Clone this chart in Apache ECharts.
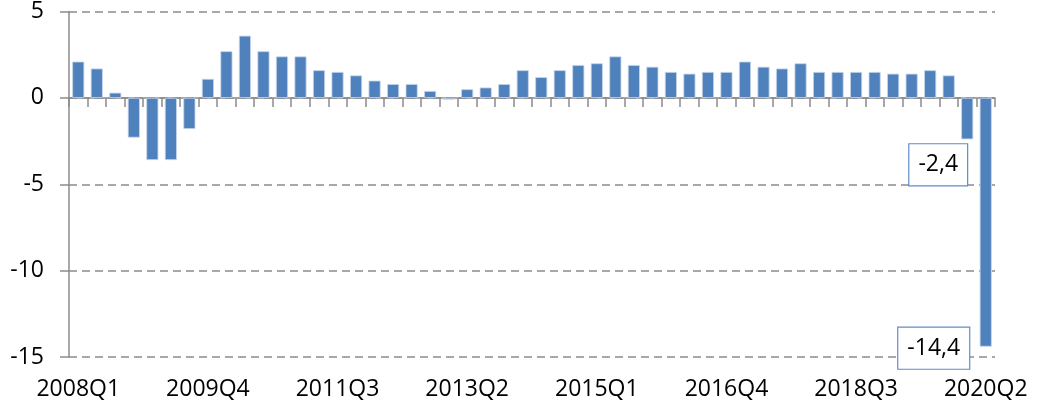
<!DOCTYPE html>
<html>
<head>
<meta charset="utf-8">
<script src="https://cdn.jsdelivr.net/npm/echarts@6/dist/echarts.min.js"></script>
<style>
  html, body { margin: 0; padding: 0; background: #fff; }
  #main { width: 1039px; height: 412px; }
</style>
</head>
<body>
<div id="main"></div>
<script>
var quarters = [
  '2008Q1','2008Q2','2008Q3','2008Q4','2009Q1','2009Q2','2009Q3','2009Q4',
  '2010Q1','2010Q2','2010Q3','2010Q4','2011Q1','2011Q2','2011Q3','2011Q4',
  '2012Q1','2012Q2','2012Q3','2012Q4','2013Q1','2013Q2','2013Q3','2013Q4',
  '2014Q1','2014Q2','2014Q3','2014Q4','2015Q1','2015Q2','2015Q3','2015Q4',
  '2016Q1','2016Q2','2016Q3','2016Q4','2017Q1','2017Q2','2017Q3','2017Q4',
  '2018Q1','2018Q2','2018Q3','2018Q4','2019Q1','2019Q2','2019Q3','2019Q4',
  '2020Q1','2020Q2'
];

var growth = [
  2.1, 1.7, 0.3, -2.3, -3.6, -3.6, -1.8, 1.1,
  2.7, 3.6, 2.7, 2.4, 2.4, 1.6, 1.5, 1.3,
  1.0, 0.8, 0.8, 0.4, -0.1, 0.5, 0.6, 0.8,
  1.6, 1.2, 1.6, 1.9, 2.0, 2.4, 1.9, 1.8,
  1.5, 1.4, 1.5, 1.5, 2.1, 1.8, 1.7, 2.0,
  1.5, 1.5, 1.5, 1.5, 1.4, 1.4, 1.6, 1.3,
  -2.4, -14.4
];

var yTicks = [-15, -10, -5, 0, 5];

// which bars get a boxed label, and where the box sits
var labelled = { 48: [-29, 0], 49: [-52, -24] };

var fontName = '"Open Sans", sans-serif';

var barData = growth.map(function (v, i) {
  if (!labelled[i]) return v;
  return {
    value: v,
    label: {
      show: true,
      position: 'bottom',
      distance: 5,
      offset: labelled[i],
      formatter: function (p) { return String(p.value).replace('.', ','); },
      fontFamily: fontName,
      fontSize: 23,
      lineHeight: 23,
      color: '#000',
      backgroundColor: '#fff',
      borderColor: '#5f8cc6',
      borderWidth: 1.2,
      padding: [9, 9, 9, 9]
    }
  };
});

var chart = echarts.init(document.getElementById('main'));

chart.setOption({
  animation: false,
  grid: { left: 69, right: 44, top: 10.5, bottom: 55, containLabel: false },
  xAxis: [
    {
      type: 'category',
      data: quarters,
      position: 'bottom',
      axisLine: { show: false, onZero: false },
      axisTick: { show: false },
      axisLabel: {
        interval: 6,
        margin: 21,
        fontFamily: fontName,
        fontSize: 23,
        color: '#000'
      }
    },
    {
      type: 'category',
      data: quarters,
      position: 'bottom',
      axisLine: { show: true, onZero: true, lineStyle: { color: '#8c8c8c', width: 1.5 } },
      axisTick: { show: true, interval: 0, length: 9, lineStyle: { color: '#8c8c8c', width: 1.5 } },
      axisLabel: { show: false }
    }
  ],
  yAxis: {
    type: 'value',
    min: yTicks[0],
    max: yTicks[yTicks.length - 1],
    interval: 5,
    axisLine: { show: true, lineStyle: { color: '#8c8c8c', width: 1.5 } },
    axisTick: { show: true, length: 9, lineStyle: { color: '#8c8c8c', width: 1.5 } },
    axisLabel: {
      margin: 25,
      fontFamily: fontName,
      fontSize: 23,
      color: '#000'
    },
    splitLine: {
      show: true,
      lineStyle: { color: '#8c8c8c', width: 1.5, type: [8, 5] }
    }
  },
  series: [
    {
      type: 'bar',
      xAxisIndex: 0,
      data: barData,
      barCategoryGap: '35%',
      itemStyle: {
        color: '#4f81bd',
        borderColor: '#c5d6ec',
        borderWidth: 0.8
      }
    }
  ]
});
</script>
</body>
</html>
